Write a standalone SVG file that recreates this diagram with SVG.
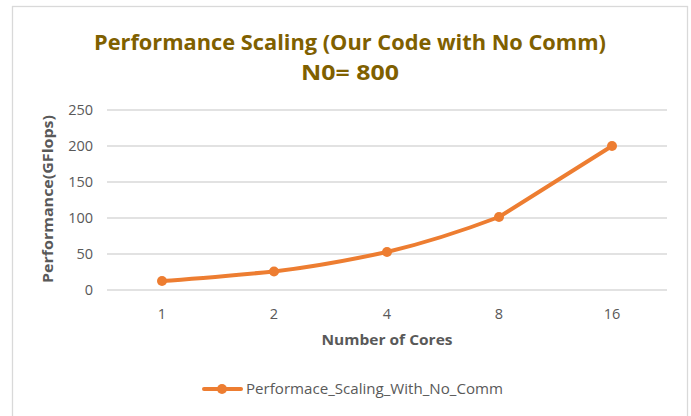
<svg xmlns="http://www.w3.org/2000/svg" width="691" height="416" viewBox="0 0 691 416">
<style>
.grid{stroke:#d9d9d9;stroke-width:1.3}
.tick{font-family:"Open Sans","Liberation Sans",sans-serif;font-size:14.5px;fill:#595959}
.axt{font-family:"Open Sans","Liberation Sans",sans-serif;font-size:15px;font-weight:bold;fill:#595959}
.title{font-family:"Open Sans","Liberation Sans",sans-serif;font-size:22px;font-weight:bold;fill:#7f6000}
.series{fill:none;stroke:#ed7d31;stroke-width:4;stroke-linecap:round;stroke-linejoin:round}
.pt{fill:#ed7d31}
</style>
<rect x="0" y="0" width="691" height="416" fill="#ffffff"/>
<rect x="12.5" y="6.5" width="675" height="420" fill="#ffffff" stroke="#d9d9d9" stroke-width="1.3"/>
<g id="title">
<text class="title" x="350" y="50" text-anchor="middle" textLength="512" lengthAdjust="spacingAndGlyphs">Performance Scaling (Our Code with No Comm)</text>
<text class="title" x="350" y="80" text-anchor="middle" textLength="98" lengthAdjust="spacingAndGlyphs">N0= 800</text>
</g>
<g id="gridlines">
<line class="grid" x1="107" y1="110" x2="667" y2="110"/>
<line class="grid" x1="107" y1="146" x2="667" y2="146"/>
<line class="grid" x1="107" y1="182" x2="667" y2="182"/>
<line class="grid" x1="107" y1="218" x2="667" y2="218"/>
<line class="grid" x1="107" y1="254" x2="667" y2="254"/>
<line class="grid" x1="107" y1="290" x2="667" y2="290"/>
</g>
<g id="y-axis">
<text class="tick" x="93" y="115" text-anchor="end">250</text>
<text class="tick" x="93" y="151" text-anchor="end">200</text>
<text class="tick" x="93" y="187" text-anchor="end">150</text>
<text class="tick" x="93" y="223" text-anchor="end">100</text>
<text class="tick" x="93" y="259" text-anchor="end">50</text>
<text class="tick" x="93" y="295" text-anchor="end">0</text>
<text class="axt" transform="translate(53,199) rotate(-90)" text-anchor="middle" textLength="168" lengthAdjust="spacingAndGlyphs">Performance(GFlops)</text>
</g>
<g id="x-axis">
<text class="tick" x="162" y="319" text-anchor="middle">1</text>
<text class="tick" x="274" y="319" text-anchor="middle">2</text>
<text class="tick" x="387" y="319" text-anchor="middle">4</text>
<text class="tick" x="499" y="319" text-anchor="middle">8</text>
<text class="tick" x="612" y="319" text-anchor="middle">16</text>
<text class="axt" x="387" y="345" text-anchor="middle" textLength="131" lengthAdjust="spacingAndGlyphs">Number of Cores</text>
</g>
<g id="connectors">
<path class="series" d="M162,281 C199,278.5 237,275 274,271.5 C312,267 350,260 387,252 C425,243 462,231 499,217 C537,193 574,170 612,146"/>
</g>
<g id="points">
<circle class="pt" cx="162" cy="281" r="5"/>
<circle class="pt" cx="274" cy="271.5" r="5"/>
<circle class="pt" cx="387" cy="252" r="5"/>
<circle class="pt" cx="499" cy="217" r="5"/>
<circle class="pt" cx="612" cy="146" r="5"/>
</g>
<g id="legend">
<line class="series" x1="204" y1="389" x2="241" y2="389" stroke-width="4"/>
<circle class="pt" cx="222" cy="389" r="5"/>
<text class="tick" x="246" y="394" textLength="257" lengthAdjust="spacingAndGlyphs">Performace_Scaling_With_No_Comm</text>
</g>
</svg>
